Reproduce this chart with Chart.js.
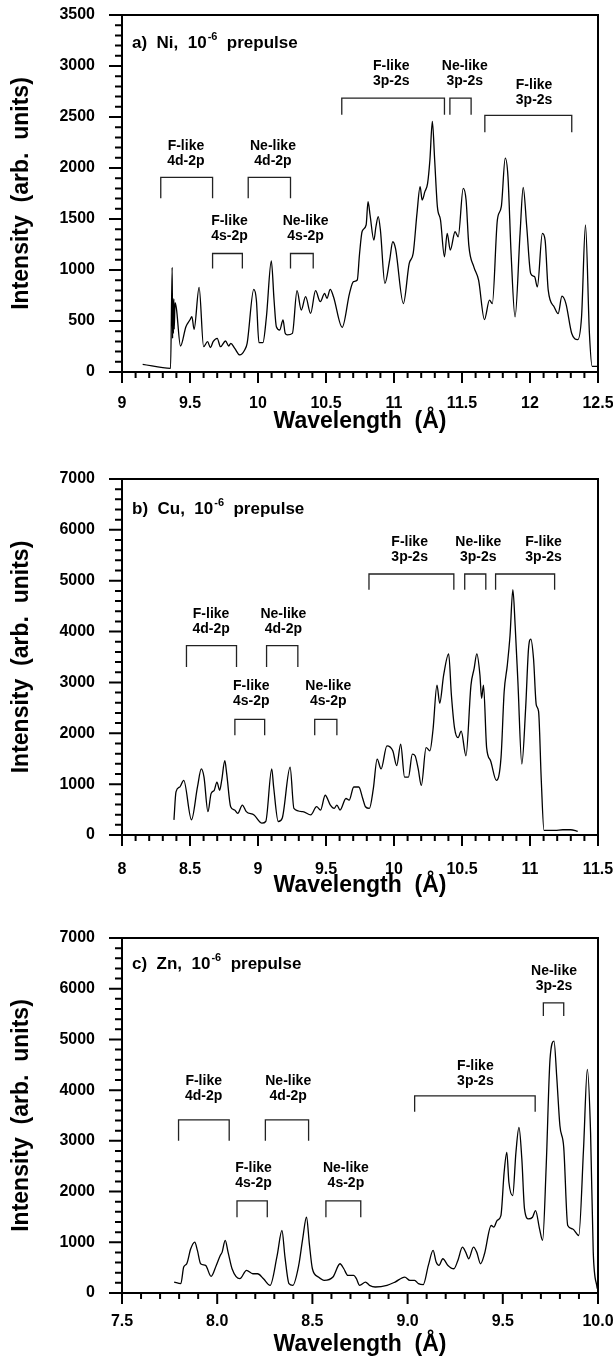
<!DOCTYPE html>
<html>
<head>
<meta charset="utf-8">
<script src="https://cdn.jsdelivr.net/npm/chart.js@4.4.1/dist/chart.umd.min.js"></script>
<style>
  html, body { margin: 0; padding: 0; background: #fff; }
  body { width: 613px; height: 1361px; position: relative; overflow: hidden; }
  canvas { position: absolute; left: 0; }
</style>
</head>
<body>
<canvas id="ni" width="613" height="440" style="top:0px"></canvas>
<canvas id="cu" width="613" height="465" style="top:440px"></canvas>
<canvas id="zn" width="613" height="456" style="top:905px"></canvas>
<script>
// ---- a) Ni ----
const niWavelength = [9.152, 9.357, 9.369, 9.372, 9.375, 9.378, 9.381, 9.384, 9.39, 9.40, 9.43, 9.47, 9.499, 9.514, 9.53, 9.567, 9.60, 9.629, 9.65, 9.67, 9.70, 9.724, 9.761, 9.785,
  9.80, 9.829, 9.866, 9.902, 9.92, 9.969, 9.988, 10.007, 10.036, 10.062, 10.098, 10.118, 10.135, 10.16, 10.184, 10.20, 10.216, 10.253, 10.287, 10.318,
  10.35, 10.387, 10.423, 10.458, 10.49, 10.507, 10.531, 10.555, 10.619, 10.673, 10.702, 10.73, 10.746, 10.766, 10.795, 10.809, 10.824, 10.852, 10.867, 10.884,
  10.90, 10.933, 10.968, 10.991, 11.011, 11.069, 11.112, 11.141, 11.169, 11.192, 11.207, 11.227, 11.247, 11.264, 11.282, 11.299, 11.319, 11.342, 11.371, 11.391,
  11.414, 11.449, 11.472, 11.509, 11.53, 11.55, 11.587, 11.622, 11.665, 11.702, 11.723, 11.76, 11.789, 11.818, 11.838, 11.861, 11.89, 11.927, 11.95, 11.976,
  12.005, 12.034, 12.054, 12.091, 12.111, 12.134, 12.178, 12.207, 12.235, 12.264, 12.307, 12.351, 12.379, 12.408, 12.437, 12.457, 12.5];
const niIntensity = [75, 36, 1026, 330, 700, 380, 720, 420, 680, 624, 255, 444, 510, 542, 418, 830, 248, 297, 240, 297, 330, 248, 304, 255,
  281, 232, 167, 216, 281, 810, 706, 288, 288, 542, 1088, 706, 444, 412, 510, 379, 363, 379, 797, 608,
  738, 575, 797, 689, 771, 722, 810, 738, 438, 771, 885, 902, 1150, 1380, 1441, 1670, 1539, 1293, 1424, 1523,
  1392, 868, 1097, 1277, 1212, 671, 1064, 1162, 1555, 1817, 1686, 1768, 1850, 2079, 2456, 2079, 1621, 1490, 1130, 1359,
  1195, 1375, 1326, 1801, 1686, 1244, 1031, 900, 514, 704, 671, 1490, 1621, 2096, 1915, 1162, 540, 1359, 1811, 1424,
  966, 933, 835, 1359, 1293, 802, 638, 573, 743, 671, 377, 318, 540, 1441, 377, 56, 56];

// ---- b) Cu ----
const cuWavelength = [8.382, 8.397, 8.425, 8.454, 8.511, 8.555, 8.583, 8.603, 8.632, 8.655, 8.678, 8.698, 8.718, 8.733, 8.756, 8.770, 8.799, 8.828, 8.851, 8.885,
  8.914, 8.971, 9.029, 9.057, 9.101, 9.115, 9.149, 9.178, 9.236, 9.264, 9.330, 9.388, 9.431, 9.460, 9.494, 9.532, 9.560, 9.580, 9.603, 9.647,
  9.670, 9.704, 9.741, 9.770, 9.790, 9.819, 9.848, 9.876, 9.905, 9.948, 9.991, 10.020, 10.049, 10.078, 10.106, 10.135, 10.155, 10.178, 10.201, 10.236,
  10.264, 10.287, 10.316, 10.336, 10.365, 10.402, 10.422, 10.445, 10.471, 10.494, 10.529, 10.566, 10.589, 10.609, 10.632, 10.644, 10.658, 10.681, 10.710, 10.753,
  10.787, 10.810, 10.833, 10.853, 10.874, 10.891, 10.911, 10.940, 10.968, 10.989, 11.006, 11.026, 11.046, 11.063, 11.083, 11.103, 11.184, 11.241, 11.299, 11.351];
const cuIntensity = [297, 847, 944, 1073, 300, 944, 1299, 1138, 459, 814, 879, 1041, 879, 1073, 1461, 1202, 556, 491, 427, 588,
  459, 394, 233, 265, 1299, 944, 265, 330, 1332, 524, 459, 394, 556, 491, 782, 588, 524, 588, 491, 718,
  685, 944, 944, 718, 556, 524, 911, 1493, 1299, 1752, 1655, 1364, 1784, 1138, 1138, 1590, 1558, 1299, 976, 1719,
  1655, 2075, 2948, 2592, 3142, 3562, 2754, 2107, 1913, 2043, 1558, 2948, 3271, 3562, 3142, 2689, 2948, 1719, 1461, 1073,
  1526, 2818, 3336, 3917, 4822, 4111, 3012, 1396, 2495, 3659, 3853, 3465, 2560, 2431, 1073, 90, 90, 103, 103, 71];

// ---- c) Zn ----
const znWavelength = [7.774, 7.809, 7.824, 7.840, 7.861, 7.882, 7.896, 7.913, 7.939, 7.968, 7.995, 8.016, 8.026, 8.042, 8.057, 8.078, 8.119, 8.154, 8.187, 8.212,
  8.243, 8.278, 8.315, 8.340, 8.356, 8.377, 8.397, 8.428, 8.449, 8.469, 8.484, 8.500, 8.531, 8.562, 8.608, 8.645, 8.665, 8.686, 8.717, 8.731,
  8.748, 8.779, 8.800, 8.830, 8.892, 8.934, 8.985, 9.012, 9.037, 9.057, 9.082, 9.109, 9.134, 9.150, 9.165, 9.185, 9.212, 9.243, 9.264, 9.288,
  9.305, 9.321, 9.346, 9.363, 9.383, 9.404, 9.439, 9.453, 9.470, 9.490, 9.507, 9.521, 9.532, 9.552, 9.569, 9.585, 9.600, 9.614, 9.635, 9.656,
  9.672, 9.693, 9.709, 9.728, 9.748, 9.769, 9.783, 9.800, 9.820, 9.841, 9.866, 9.899, 9.924, 9.944, 9.961, 9.975, 9.996];
const znIntensity = [216, 184, 511, 577, 872, 1003, 839, 577, 544, 328, 544, 741, 806, 1036, 806, 478, 282, 446, 380, 380,
  282, 151, 741, 1232, 708, 184, 151, 544, 1068, 1494, 970, 478, 315, 249, 315, 577, 478, 347, 347, 282,
  151, 216, 151, 118, 151, 216, 315, 249, 249, 184, 164, 544, 839, 610, 544, 675, 544, 478, 642, 905,
  806, 675, 905, 806, 577, 773, 1331, 1298, 1429, 1527, 2379, 2773, 2183, 1920, 2773, 3264, 2641, 1658, 1462, 1494,
  1625, 1265, 1036, 2510, 4608, 4968, 4280, 3297, 2871, 1331, 1265, 1134, 2838, 4411, 3166, 806, 85];

// line assignments: bracket [from, to] at height top with legs down to foot; text centred at tx, second line at ty
const niNotes = [
  { ion: 'F-like', trans: '4d-2p', from: 9.285, to: 9.666, top: 1909, foot: 1703, tx: 9.47, ty: 2069 },
  { ion: 'Ne-like', trans: '4d-2p', from: 9.928, to: 10.239, top: 1909, foot: 1703, tx: 10.11, ty: 2069 },
  { ion: 'F-like', trans: '4s-2p', from: 9.666, to: 9.885, top: 1162, foot: 1015, tx: 9.79, ty: 1336 },
  { ion: 'Ne-like', trans: '4s-2p', from: 10.239, to: 10.406, top: 1162, foot: 1015, tx: 10.35, ty: 1336 },
  { ion: 'F-like', trans: '3p-2s', from: 10.616, to: 11.371, top: 2685, foot: 2521, tx: 10.98, ty: 2849 },
  { ion: 'Ne-like', trans: '3p-2s', from: 11.411, to: 11.567, top: 2685, foot: 2521, tx: 11.52, ty: 2849 },
  { ion: 'F-like', trans: '3p-2s', from: 11.668, to: 12.307, top: 2515, foot: 2351, tx: 12.03, ty: 2669 }
];
const cuNotes = [
  { ion: 'F-like', trans: '4d-2p', from: 8.474, to: 8.842, top: 3723, foot: 3303, tx: 8.655, ty: 4046 },
  { ion: 'Ne-like', trans: '4d-2p', from: 9.063, to: 9.293, top: 3723, foot: 3303, tx: 9.187, ty: 4046 },
  { ion: 'F-like', trans: '4s-2p', from: 8.830, to: 9.049, top: 2275, foot: 1959, tx: 8.951, ty: 2624 },
  { ion: 'Ne-like', trans: '4s-2p', from: 9.417, to: 9.580, top: 2275, foot: 1959, tx: 9.517, ty: 2624 },
  { ion: 'F-like', trans: '3p-2s', from: 9.816, to: 10.440, top: 5132, foot: 4822, tx: 10.115, ty: 5469 },
  { ion: 'Ne-like', trans: '3p-2s', from: 10.520, to: 10.675, top: 5132, foot: 4822, tx: 10.62, ty: 5469 },
  { ion: 'F-like', trans: '3p-2s', from: 10.747, to: 11.181, top: 5132, foot: 4822, tx: 11.10, ty: 5469 }
];
const znNotes = [
  { ion: 'F-like', trans: '4d-2p', from: 7.797, to: 8.063, top: 3415, foot: 3002, tx: 7.929, ty: 3887 },
  { ion: 'Ne-like', trans: '4d-2p', from: 8.253, to: 8.480, top: 3415, foot: 3002, tx: 8.373, ty: 3887 },
  { ion: 'F-like', trans: '4s-2p', from: 8.104, to: 8.263, top: 1816, foot: 1494, tx: 8.191, ty: 2169 },
  { ion: 'Ne-like', trans: '4s-2p', from: 8.571, to: 8.754, top: 1816, foot: 1494, tx: 8.676, ty: 2169 },
  { ion: 'F-like', trans: '3p-2s', from: 9.037, to: 9.670, top: 3887, foot: 3572, tx: 9.356, ty: 4182 },
  { ion: 'Ne-like', trans: '3p-2s', from: 9.713, to: 9.820, top: 5722, foot: 5460, tx: 9.769, ty: 6050 }
];

const FONT = "'Liberation Sans', Arial, Helvetica, sans-serif";

function decor(panel) {
  return {
    id: 'decor_' + panel.id,
    afterDraw(chart) {
      const { ctx, chartArea: a, scales: { x, y } } = chart;
      ctx.save();
      ctx.strokeStyle = '#000';
      ctx.fillStyle = '#000';

      // frame
      ctx.lineWidth = 2;
      ctx.strokeRect(a.left, a.top, a.right - a.left, a.bottom - a.top);

      // ticks (outside, major + minor)
      ctx.lineWidth = 2;
      ctx.beginPath();
      const ny = Math.round((y.max - y.min) / panel.yMinor);
      for (let i = 0; i <= ny; i++) {
        const v = y.min + i * panel.yMinor;
        const p = y.getPixelForValue(v);
        const major = Math.abs(v / panel.yMajor - Math.round(v / panel.yMajor)) < 1e-6;
        ctx.moveTo(a.left, p);
        ctx.lineTo(a.left - (major ? 13 : 7), p);
      }
      const nx = Math.round((x.max - x.min) / panel.xMinor);
      for (let i = 0; i <= nx; i++) {
        const v = x.min + i * panel.xMinor;
        const p = x.getPixelForValue(v);
        const major = Math.abs(v / panel.xMajor - Math.round(v / panel.xMajor)) < 1e-6;
        ctx.moveTo(p, a.bottom);
        ctx.lineTo(p, a.bottom + (major ? 11 : 6));
      }
      ctx.stroke();

      // brackets + labels
      ctx.lineWidth = 1.3;
      ctx.strokeStyle = '#222';
      ctx.font = 'bold 14px ' + FONT;
      ctx.textAlign = 'center';
      ctx.textBaseline = 'middle';
      panel.notes.forEach(n => {
        const x1 = x.getPixelForValue(n.from);
        const x2 = x.getPixelForValue(n.to);
        const yt = y.getPixelForValue(n.top);
        const yf = y.getPixelForValue(n.foot);
        ctx.beginPath();
        ctx.moveTo(x1, yf);
        ctx.lineTo(x1, yt);
        ctx.lineTo(x2, yt);
        ctx.lineTo(x2, yf);
        ctx.stroke();
        const tx = x.getPixelForValue(n.tx);
        const ty = y.getPixelForValue(n.ty);
        ctx.fillText(n.ion, tx, ty - 15);
        ctx.fillText(n.trans, tx, ty);
      });

      // panel caption with superscript
      const big = 'bold 17px ' + FONT;
      const small = 'bold 11px ' + FONT;
      ctx.textAlign = 'left';
      ctx.textBaseline = 'alphabetic';
      let cx = a.left + 10;
      const cy = a.top + panel.captionDy;
      ctx.font = big;
      ctx.fillText(panel.caption[0], cx, cy);
      cx += ctx.measureText(panel.caption[0]).width + 1;
      ctx.font = small;
      ctx.fillText(panel.caption[1], cx, cy - 8);
      cx += ctx.measureText(panel.caption[1]).width;
      ctx.font = big;
      ctx.fillText(panel.caption[2], cx, cy);
      ctx.restore();
    }
  };
}

function makeChart(panel) {
  const points = panel.wavelength.map((w, i) => ({ x: w, y: panel.intensity[i] }));
  return new Chart(document.getElementById(panel.id), {
    type: 'line',
    data: {
      datasets: [{
        data: points,
        borderColor: '#000',
        borderWidth: 1.3,
        pointRadius: 0,
        fill: false,
        cubicInterpolationMode: 'monotone'
      }]
    },
    options: {
      responsive: false,
      animation: false,
      events: [],
      layout: { padding: { top: panel.padTop, right: 15, bottom: 0, left: 0 } },
      plugins: { legend: { display: false }, tooltip: { enabled: false } },
      scales: {
        x: {
          type: 'linear',
          min: panel.xMin,
          max: panel.xMax,
          grid: { display: false, drawTicks: false },
          border: { display: false },
          ticks: {
            stepSize: panel.xMajor,
            autoSkip: false,
            maxRotation: 0,
            padding: panel.xLabelPad,
            color: '#000',
            font: { family: FONT, size: 16, weight: 'bold' },
            callback: panel.xFormat
          },
          title: {
            display: true,
            text: 'Wavelength  (\u00C5)',
            color: '#000',
            font: { family: FONT, size: 23, weight: 'bold' },
            padding: { top: 0, bottom: panel.xTitlePad }
          },
          afterFit(scale) {
            scale.height = panel.xAxisHeight;
            scale.paddingLeft = 0;
            scale.paddingRight = 0;
          }
        },
        y: {
          min: 0,
          max: panel.yMax,
          grid: { display: false, drawTicks: false },
          border: { display: false },
          ticks: {
            stepSize: panel.yMajor,
            padding: 27,
            color: '#000',
            font: { family: FONT, size: 16, weight: 'bold' },
            callback: v => String(v)
          },
          title: {
            display: true,
            text: 'Intensity  (arb.  units)',
            color: '#000',
            font: { family: FONT, size: 23, weight: 'bold' },
            padding: { top: 8, bottom: 0 }
          },
          afterFit(scale) {
            scale.width = 122;
            scale.paddingTop = 0;
            scale.paddingBottom = 0;
          }
        }
      }
    },
    plugins: [decor(panel)]
  });
}

const plainNum = v => String(Math.round(v * 10) / 10);
const oneDecimal = v => v.toFixed(1);

makeChart({
  id: 'ni', wavelength: niWavelength, intensity: niIntensity, notes: niNotes,
  xMin: 9, xMax: 12.5, xMajor: 0.5, xMinor: 0.1, yMax: 3500, yMajor: 500, yMinor: 100,
  xFormat: plainNum, padTop: 15, xAxisHeight: 68, xLabelPad: 22, xTitlePad: 5,
  caption: ['a)  Ni,  10', '-6', '  prepulse'], captionDy: 33
});
makeChart({
  id: 'cu', wavelength: cuWavelength, intensity: cuIntensity, notes: cuNotes,
  xMin: 8, xMax: 11.5, xMajor: 0.5, xMinor: 0.1, yMax: 7000, yMajor: 1000, yMinor: 200,
  xFormat: plainNum, padTop: 39, xAxisHeight: 70, xLabelPad: 25, xTitlePad: 6,
  caption: ['b)  Cu,  10', '-6', '  prepulse'], captionDy: 35
});
makeChart({
  id: 'zn', wavelength: znWavelength, intensity: znIntensity, notes: znNotes,
  xMin: 7.5, xMax: 10, xMajor: 0.5, xMinor: 0.1, yMax: 7000, yMajor: 1000, yMinor: 200,
  xFormat: oneDecimal, padTop: 33, xAxisHeight: 68, xLabelPad: 19, xTitlePad: 3,
  caption: ['c)  Zn,  10', '-6', '  prepulse'], captionDy: 31
});
</script>
</body>
</html>
